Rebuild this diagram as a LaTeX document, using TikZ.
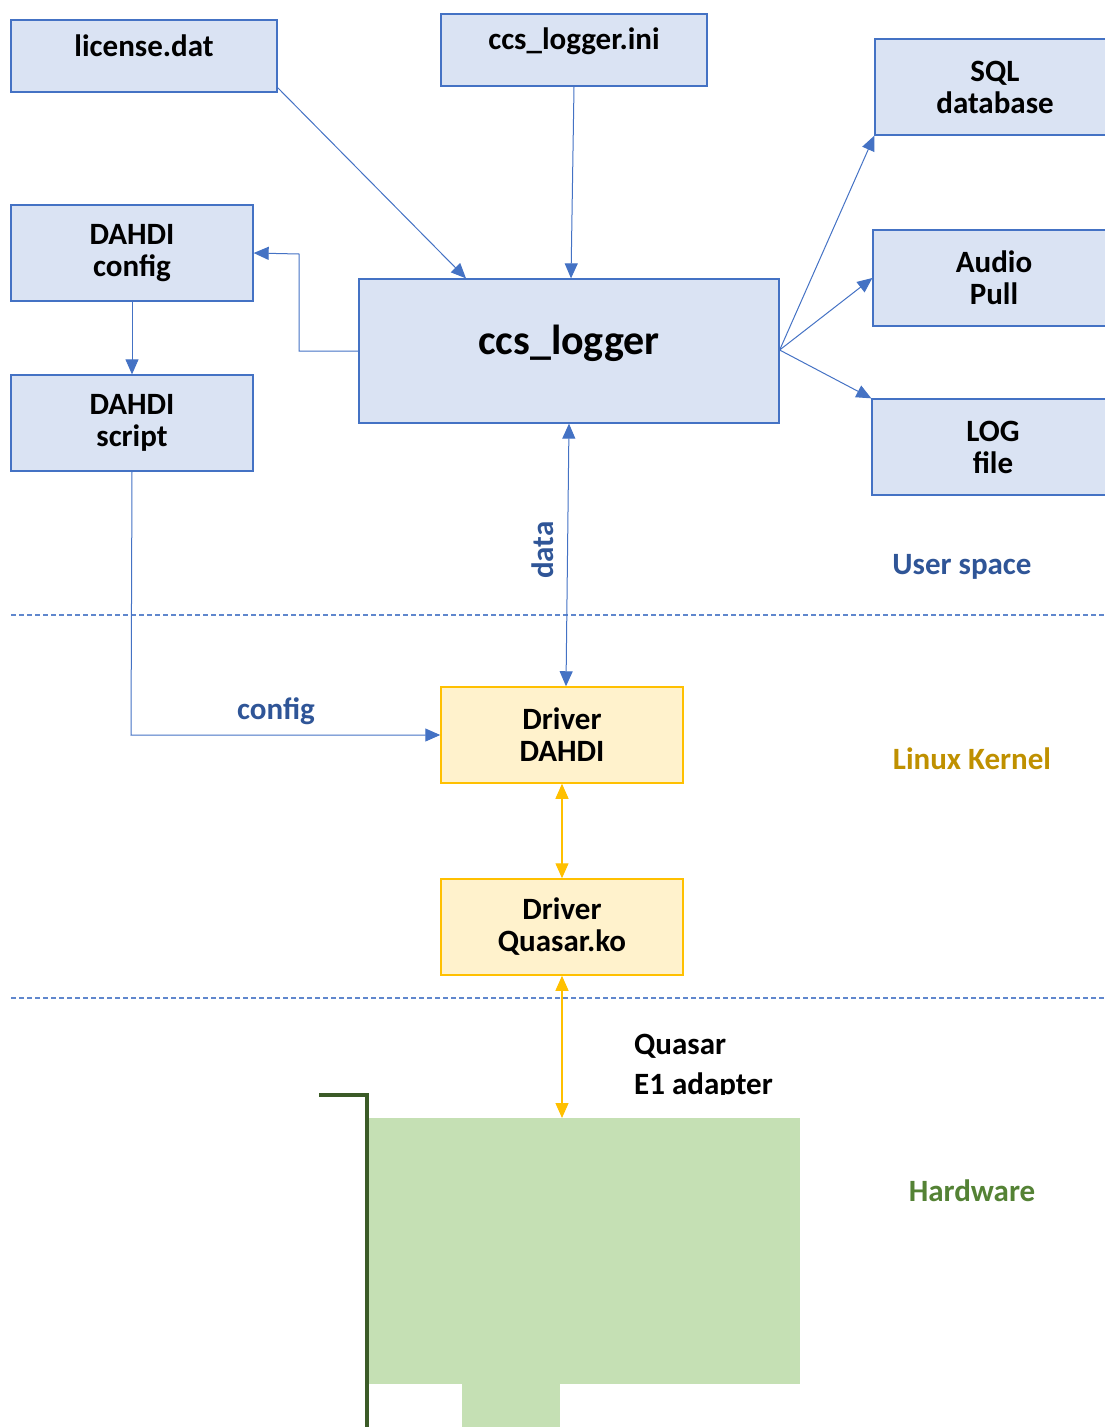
\documentclass[tikz,border=0pt]{standalone}
\usepackage{fontspec}
\setmainfont{Carlito}
\usetikzlibrary{arrows.meta}
\definecolor{bord}{HTML}{4472C4}
\definecolor{bfill}{HTML}{DAE3F3}
\definecolor{yfill}{HTML}{FFF2CC}
\definecolor{ybord}{HTML}{FFC000}
\definecolor{dblue}{HTML}{2F5597}
\definecolor{gold}{HTML}{BF9000}
\definecolor{hwgreen}{HTML}{548235}
\definecolor{cardgreen}{HTML}{C5E0B4}
\definecolor{bracket}{HTML}{3B5B27}
\tikzset{
  bluebox/.style={draw=bord, fill=bfill, line width=1.3pt, minimum width=242pt, minimum height=96pt, inner sep=0pt, align=center, font=\fontsize{31}{32}\selectfont\bfseries},
  yelbox/.style={draw=ybord, fill=yfill, line width=1.5pt, minimum width=242pt, minimum height=96pt, inner sep=0pt, align=center, font=\fontsize{31}{32}\selectfont\bfseries},
  txt/.style={inner sep=0pt, align=center, font=\fontsize{31}{32}\selectfont\bfseries},
  conn/.style={draw=bord, line width=1pt, -{Triangle[length=15pt,width=13pt]}},
  bconn/.style={draw=bord, line width=1pt, {Triangle[length=15pt,width=13pt]}-{Triangle[length=15pt,width=13pt]}},
  yconn/.style={draw=ybord, line width=1.2pt, {Triangle[length=15pt,width=13pt]}-{Triangle[length=15pt,width=13pt]}},
  sep/.style={draw=bord!85, line width=1.3pt, dash pattern=on 5pt off 3pt},
}
\begin{document}
\begin{tikzpicture}[x=1pt,y=-1pt]
\useasboundingbox (0,0) rectangle (1105,1427);
\clip (0,0) rectangle (1105,1427);
% separators
\draw[sep] (11,615) -- (1105,615);
\draw[sep] (11,998) -- (1105,998);
% boxes
\node[bluebox, minimum width=266pt, minimum height=72pt] (lic) at (144,56) {};
\node[txt] (lictxt) at (144,46) {license.dat};
\node[bluebox, minimum width=266pt, minimum height=72pt] (ini) at (574,50) {};
\node[txt] (initxt) at (574,41) {ccs\_logger.ini};
\node[bluebox, minimum width=240pt, text depth=0pt] (sql) at (995,87) {SQL\\database};
\node[bluebox, minimum width=242pt] (aud) at (994,278) {Audio\\Pull};
\node[bluebox, minimum width=242pt] (log) at (993,447) {LOG\\file};
\node[bluebox] (dcfg) at (132,253) {DAHDI\\config};
\node[bluebox] (dscr) at (132,423) {DAHDI\\script};
\node[bluebox, minimum width=420pt, minimum height=144pt] (ccs) at (569,351) {};
\node[txt, font=\fontsize{42}{44}\selectfont\bfseries] (ccstxt) at (569,343) {ccs\_logger};
\node[yelbox] (drv1) at (562,735) {Driver\\DAHDI};
\node[yelbox] (drv2) at (562,927) {Driver\\Quasar.ko};
% hardware card
\fill[cardgreen] (369,1118) rectangle (800,1384);
\fill[cardgreen] (462,1384) rectangle (560,1430);
\draw[bracket, line width=4pt] (319,1095) -- (367,1095) -- (367,1432);
\coordinate (card) at (562,1118);
% region labels
\node[txt, text=dblue] (us) at (962,567) {User space};
\node[txt, text=gold] (lk) at (972,759) {Linux Kernel};
\node[txt, text=hwgreen] (hw) at (972,1191) {Hardware};
\begin{scope}
\clip (600,1020) rectangle (900,1094);
\node[txt, anchor=west, align=left, font=\fontsize{31}{40}\selectfont\bfseries] (quasar) at (634,1067) {Quasar\\E1 adapter};
\end{scope}
% connectors
\draw[conn] ([yshift=5pt]lic.south east) -- ([xshift=-103pt]ccs.north);
\draw[conn] (ini.south) -- ([xshift=2pt]ccs.north);
\draw[conn] (ccs.west) -- (299,351) -- (299,254) -- (dcfg.east);
\draw[conn] (dcfg.south) -- (dscr.north);
\draw[conn] (dscr.south) -- (131,735) -- (drv1.west);
\draw[conn] ([yshift=1pt]ccs.east) -- (sql.south west);
\draw[conn] ([yshift=1pt]ccs.east) -- (aud.west);
\draw[conn] ([yshift=1pt]ccs.east) -- (log.north west);
\draw[bconn] (ccs.south) -- ([xshift=4pt]drv1.north);
\node[txt, text=dblue, rotate=90] (datalbl) at (543,550) {data};
\node[txt, text=dblue] (cfglbl) at (276,711) {config};
\draw[yconn] (drv1.south) -- (drv2.north);
\draw[yconn] (drv2.south) -- (card);
\end{tikzpicture}
\end{document}
